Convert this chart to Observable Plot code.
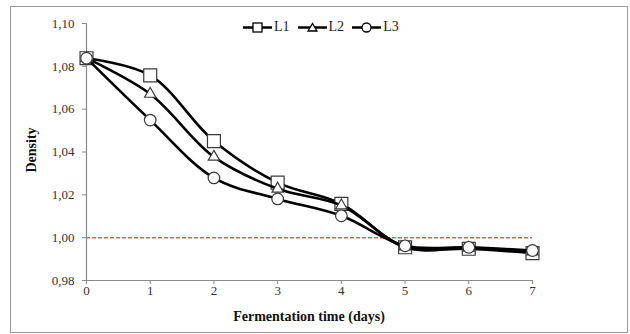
<!DOCTYPE html>
<html>
<head>
<meta charset="utf-8">
<script src="https://cdn.jsdelivr.net/npm/d3@7"></script>
<script src="https://cdn.jsdelivr.net/npm/@observablehq/plot@0.6"></script>
<style>
  html, body { margin: 0; padding: 0; background: #fff; }
  #wrap { position: relative; width: 630px; height: 334px; font-family: "Liberation Serif", serif; }
  #frame { position: absolute; left: 10px; top: 6px; width: 618px; height: 327px; border: 1.5px solid #9a9a9a; box-sizing: border-box; pointer-events: none; }
  #chart { position: absolute; left: 0; top: 0; }
  #legend { position: absolute; top: 19px; left: 243px; display: flex; gap: 8px; font-size: 14px; color: #222; align-items: center; }
  #legend .item { display: flex; align-items: center; gap: 2px; }
  .xtitle { position: absolute; left: 0; width: 618px; top: 309px; text-align: center; font-weight: bold; font-size: 14px; color: #111; }
  .ytitle { position: absolute; left: 32px; top: 150px; transform: translate(-50%, -50%) rotate(-90deg); font-weight: bold; font-size: 14px; color: #111; white-space: nowrap; }
</style>
</head>
<body>
<div id="wrap">
  <div id="chart"></div>
  <div id="frame"></div>
  <div id="legend"></div>
  <div class="xtitle">Fermentation time (days)</div>
  <div class="ytitle">Density</div>
</div>
<script>
const days = [0, 1, 2, 3, 4, 5, 6, 7];
const L1 = [1.0838, 1.0758, 1.0451, 1.0257, 1.0158, 0.9955, 0.9948, 0.9928];
const L2 = [1.0838, 1.0671, 1.0377, 1.0228, 1.0150, 0.9958, 0.9952, 0.9935];
const L3 = [1.0838, 1.0549, 1.0279, 1.0181, 1.0102, 0.9962, 0.9955, 0.9940];
const seriesNames = ["L1", "L2", "L3"];
const seriesSymbols = ["square", "triangle", "circle"];
const seriesR = [7.3, 4.2, 5.8];
const yTicks = [0.98, 1.00, 1.02, 1.04, 1.06, 1.08, 1.10];
const xTicks = [0, 1, 2, 3, 4, 5, 6, 7];
const threshold = 1.00;

const seriesValues = [L1, L2, L3];
const axisColor = "#8a8a8a";

const marks = [
  Plot.ruleY([threshold], {x1: 0, x2: 7, stroke: "#e06060", strokeWidth: 1.5, strokeDasharray: "4,2"}),
  Plot.ruleX([0], {stroke: axisColor, strokeWidth: 1.2}),
  Plot.ruleY([0.98], {stroke: axisColor, strokeWidth: 1.2}),
  Plot.axisY({ticks: yTicks, tickSize: 4, tickPadding: 8, stroke: axisColor, tickFormat: d => d.toFixed(2).replace(".", ","), fontSize: 13, fill: "#333", label: null}),
  Plot.axisX({ticks: xTicks, tickSize: 4, tickPadding: 1, stroke: axisColor, tickFormat: d => String(d), fontSize: 13, fill: "#333", label: null})
];
seriesValues.forEach((vals, i) => {
  const data = days.map((d, j) => ({day: d, v: vals[j]}));
  marks.push(Plot.line(data, {x: "day", y: "v", curve: "catmull-rom", stroke: "#000", strokeWidth: 2.6}));
  marks.push(Plot.dot(data, {x: "day", y: "v", symbol: seriesSymbols[i], r: seriesR[i], fill: "#fff", stroke: "#3a3a3a", strokeWidth: 1.2}));
});

const chart = Plot.plot({
  width: 630,
  height: 334,
  marginLeft: 86,
  marginRight: 98,
  marginTop: 23,
  marginBottom: 54,
  style: {fontFamily: "'Liberation Serif', serif", fontSize: "13px", background: "transparent"},
  x: {domain: [0, 7]},
  y: {domain: [0.98, 1.10]},
  marks
});
document.getElementById("chart").appendChild(chart);

// legend
const legend = document.getElementById("legend");
const symPaths = {
  square: '<rect x="10" y="3" width="9" height="9" fill="#fff" stroke="#000" stroke-width="1.3"/>',
  triangle: '<path d="M14.5,3.5 L19,11 L10,11 Z" fill="#fff" stroke="#000" stroke-width="1.3"/>',
  circle: '<circle cx="14.5" cy="7.5" r="4.5" fill="#fff" stroke="#000" stroke-width="1.3"/>'
};
seriesNames.forEach((name, i) => {
  const item = document.createElement("div");
  item.className = "item";
  item.innerHTML = '<svg width="29" height="15"><line x1="0" x2="29" y1="7.5" y2="7.5" stroke="#000" stroke-width="2.5"/>' + symPaths[seriesSymbols[i]] + '</svg><span>' + name + '</span>';
  legend.appendChild(item);
});
</script>
</body>
</html>
